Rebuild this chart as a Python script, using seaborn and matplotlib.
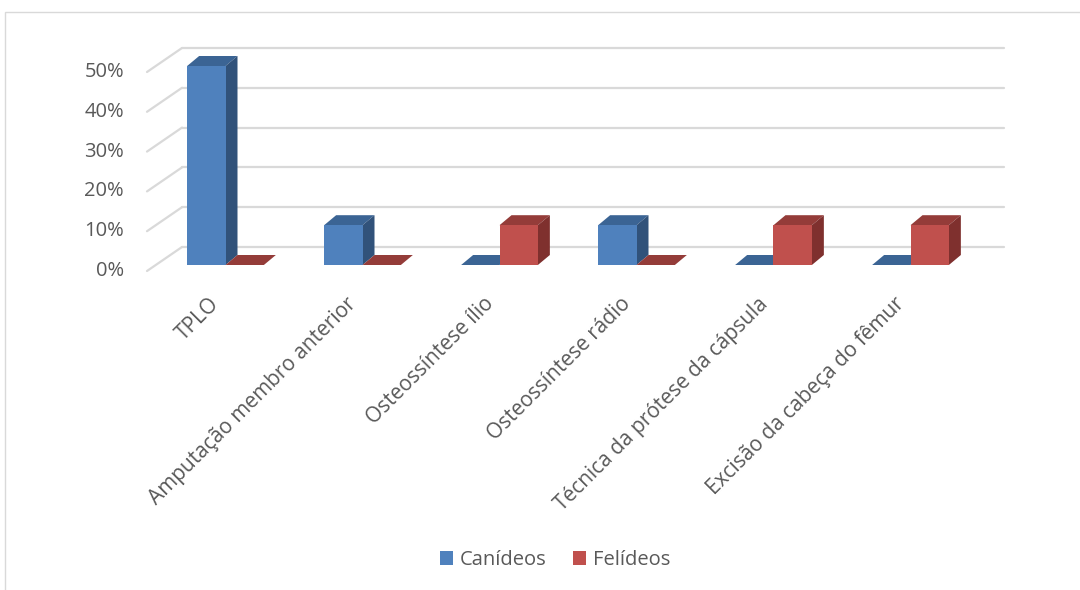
import numpy as np
import pandas as pd
import seaborn as sns
import matplotlib
matplotlib.use("Agg")
import matplotlib.pyplot as plt
from matplotlib.patches import Polygon, Rectangle, Patch
from matplotlib.transforms import ScaledTranslation

# ---------------- data ----------------
categories = ["TPLO", "Amputação membro anterior", "Osteossíntese ílio",
              "Osteossíntese rádio", "Técnica da prótese da cápsula",
              "Excisão da cabeça do fêmur"]
caninos = [0.50, 0.10, 0.00, 0.10, 0.00, 0.00]
felinos = [0.00, 0.00, 0.10, 0.00, 0.10, 0.10]
series_names = ["Canídeos", "Felídeos"]
yticks = [0.0, 0.1, 0.2, 0.3, 0.4, 0.5]
ytick_labels = ["0%", "10%", "20%", "30%", "40%", "50%"]

df = pd.DataFrame({
    "cat": categories * 2,
    "val": caninos + felinos,
    "serie": [series_names[0]] * len(categories) + [series_names[1]] * len(categories),
})

# ---------------- style ----------------
sns.set_style("white")
plt.rcParams["font.family"] = ["Open Sans", "DejaVu Sans"]
TXT = "#595959"
GRID = "#D9D9D9"
FS = 14.5
FSX = 15.0
front_cols = {"Canídeos": "#4F81BD", "Felídeos": "#C0504D"}
side_cols = {"Canídeos": "#31527A", "Felídeos": "#7F302E"}
top_cols = {"Canídeos": "#3B6494", "Felídeos": "#943C39"}

DPI = 100
W, H = 1080, 590
fig = plt.figure(figsize=(W / DPI, H / DPI), dpi=DPI)

# axes = front plane of the bars (pixel geometry of the reference)
ax_l, ax_r = 157, 979
ax_b, ax_t = 265, 66  # y from top, for 0 and 0.5
ax = fig.add_axes([ax_l / W, (H - ax_b) / H, (ax_r - ax_l) / W, (ax_b - ax_t) / H])

sns.barplot(data=df, x="cat", y="val", hue="serie", order=categories,
            hue_order=series_names, palette=front_cols, saturation=1,
            width=0.56, ax=ax, legend=False, linewidth=0)
ax.set_xlim(-0.5, len(categories) - 0.5)
ax.set_ylim(0, 0.5)
for s in ax.spines.values():
    s.set_visible(False)
ax.set_xticks([])
ax.set_yticks([])
ax.set_xlabel("")
ax.set_ylabel("")
ax.patch.set_alpha(0)

# depth offsets in pixels (display coords, y up)
BAR_D = np.array([12.0, 10.0])
FRONT_D = np.array([-10.0, -6.0])
BACK_D = np.array([25.0, 18.0])

inv = ax.transData.inverted()

def to_data(pts):
    return inv.transform(np.asarray(pts))

# back wall gridlines + left wall diagonals
for v in yticks:
    p0 = ax.transData.transform((-0.5, v))
    p1 = ax.transData.transform((len(categories) - 0.5, v))
    back = to_data([p0 + BACK_D, p1 + BACK_D])
    ax.plot(back[:, 0], back[:, 1], color=GRID, lw=1.6, clip_on=False, zorder=1)
    diag = to_data([p0 + FRONT_D, p0 + BACK_D])
    ax.plot(diag[:, 0], diag[:, 1], color=GRID, lw=1.6, clip_on=False, zorder=1)

# 3D faces for bars
bars = []
for cont, name in zip(ax.containers, series_names):
    for b in cont:
        bars.append((b.get_x(), b, name))
bars.sort(key=lambda t: t[0])
for k, (_, b, name) in enumerate(bars):
    x, w, h = b.get_x(), b.get_width(), b.get_height()
    z = 3 + 0.1 * k
    b.set_zorder(z + 0.05)
    b.set_edgecolor("none")
    bl, br, tr, tl = ax.transData.transform([(x, 0), (x + w, 0), (x + w, h), (x, h)])
    top = to_data([tl, tr, tr + BAR_D, tl + BAR_D])
    ax.add_patch(Polygon(top, closed=True, facecolor=top_cols[name],
                         edgecolor="none", clip_on=False, zorder=z))
    if h > 0:
        side = to_data([br, tr, tr + BAR_D, br + BAR_D])
        ax.add_patch(Polygon(side, closed=True, facecolor=side_cols[name],
                             edgecolor="none", clip_on=False, zorder=z))

# y tick labels on the front plane
ytr = ax.transData + ScaledTranslation(-33 / DPI, -6 / DPI, fig.dpi_scale_trans)
for v, lab in zip(yticks, ytick_labels):
    ax.text(-0.5, v, lab, transform=ytr, ha="right", va="center",
            fontsize=FS, color=TXT)

# category labels rotated 45°
xtr = ax.transData + ScaledTranslation(-9 / DPI, -36 / DPI, fig.dpi_scale_trans)
for i, lab in enumerate(categories):
    ax.text(i, 0, lab, transform=xtr, rotation=45, rotation_mode="anchor",
            ha="right", va="center", fontsize=FSX, color=TXT)

# legend
handles = [Patch(facecolor=front_cols[n], edgecolor="none", label=n) for n in series_names]
fig.legend(handles=handles, loc="center", bbox_to_anchor=(555 / W, 1 - 560 / H),
           ncol=2, frameon=False, fontsize=FS, labelcolor=TXT,
           handlelength=0.65, handleheight=0.65, handletextpad=0.35,
           columnspacing=1.3)

# outer chart border
fig.add_artist(Rectangle((4.5 / W, -0.05), 1.1, 1.05 - 12.5 / H,
                         transform=fig.transFigure, fill=False,
                         edgecolor=GRID, lw=1.0))

fig.savefig("out.png", dpi=DPI, facecolor="white")
